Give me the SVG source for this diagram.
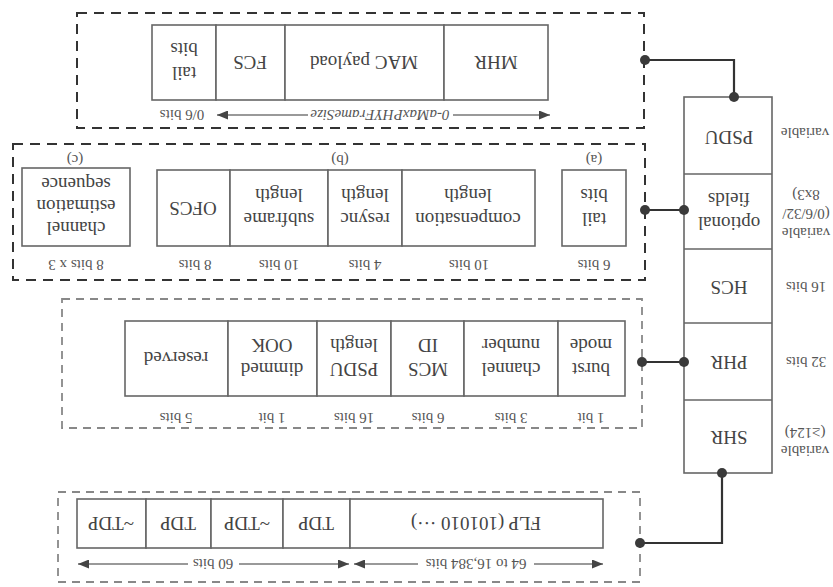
<svg xmlns="http://www.w3.org/2000/svg" width="833" height="587" viewBox="0 0 833 587">
<defs>
<style>
.box{fill:#fff;stroke:#666;stroke-width:1.6}
.t{font-family:"Liberation Serif","Times New Roman",serif;font-size:19px;fill:#444;text-anchor:middle;dominant-baseline:central}
.s{font-family:"Liberation Serif","Times New Roman",serif;font-size:15px;fill:#555;text-anchor:middle;dominant-baseline:central}
.i{font-style:italic;font-size:15px}
.dash{fill:none;stroke:#333;stroke-width:2;stroke-dasharray:10 7}
.dash2{fill:none;stroke:#888;stroke-width:1.8;stroke-dasharray:8 6}
.conn{fill:none;stroke:#333;stroke-width:2.2}
.dot{fill:#3a3a3a}
.dim{fill:none;stroke:#777;stroke-width:1.3;marker-end:url(#ah)}
</style>
<marker id="ah" markerUnits="userSpaceOnUse" markerWidth="11" markerHeight="9" refX="11" refY="4.5" orient="auto">
<path d="M0,0 L11,4.5 L0,9 z" fill="#444"/>
</marker>
</defs>
<rect width="833" height="587" fill="#fff"/>

<!-- MAC frame -->
<g id="mac-frame">
<rect class="dash" x="77" y="13" width="567" height="115"/>
<rect class="box" x="152" y="25" width="64" height="75"/>
<rect class="box" x="216" y="25" width="69" height="75"/>
<rect class="box" x="285" y="25" width="159" height="75"/>
<rect class="box" x="444" y="25" width="104" height="75"/>
<text class="t" transform="rotate(180 184 62)"><tspan x="184" y="50">tail</tspan><tspan x="184" y="74">bits</tspan></text>
<text class="t" transform="rotate(180 250 62)" x="250" y="62">FCS</text>
<text class="t" transform="rotate(180 364 62)" x="364" y="62">MAC payload</text>
<text class="t" transform="rotate(180 496 62)" x="496" y="62">MHR</text>
<line class="dim" x1="308" y1="115" x2="217" y2="115"/>
<line class="dim" x1="453" y1="115" x2="550" y2="115"/>
<text class="s i" transform="rotate(180 380 115)" x="380" y="115">0-aMaxPHYFrameSize</text>
<text class="s" transform="rotate(180 182 115)" x="182" y="115">0/6 bits</text>
</g>

<!-- PHY frame stack -->
<g id="phy-stack">
<rect class="box" x="684" y="97" width="88" height="376"/>
<line class="box" x1="684" y1="174" x2="772" y2="174"/>
<line class="box" x1="684" y1="249" x2="772" y2="249"/>
<line class="box" x1="684" y1="323" x2="772" y2="323"/>
<line class="box" x1="684" y1="400" x2="772" y2="400"/>
<text class="t" transform="rotate(180 729 137)" x="729" y="137">PSDU</text>
<text class="t" transform="rotate(180 729 212)"><tspan x="729" y="200">optional</tspan><tspan x="729" y="224">fields</tspan></text>
<text class="t" transform="rotate(180 729 287)" x="729" y="287">HCS</text>
<text class="t" transform="rotate(180 729 362)" x="729" y="362">PHR</text>
<text class="t" transform="rotate(180 729 437)" x="729" y="437">SHR</text>
<text class="s" transform="rotate(180 805 133)" x="805" y="133">variable</text>
<text class="s" transform="rotate(180 806 214)"><tspan x="806" y="195">variable</tspan><tspan x="806" y="214">(0/6/32/</tspan><tspan x="806" y="233">8x3)</tspan></text>
<text class="s" transform="rotate(180 806 287)" x="806" y="287">16 bits</text>
<text class="s" transform="rotate(180 806 362)" x="806" y="362">32 bits</text>
<text class="s" transform="rotate(180 805 442)"><tspan x="805" y="433">variable</tspan><tspan x="805" y="451">(≥124)</tspan></text>
</g>

<!-- Optional fields -->
<g id="optional-fields">
<rect class="dash" x="13" y="144" width="632" height="136"/>
<rect class="box" x="22" y="168" width="108" height="78"/>
<rect class="box" x="157" y="170" width="73" height="76"/>
<rect class="box" x="230" y="170" width="98" height="76"/>
<rect class="box" x="328" y="170" width="74" height="76"/>
<rect class="box" x="402" y="170" width="133" height="76"/>
<rect class="box" x="562" y="170" width="64" height="76"/>
<text class="t" transform="rotate(180 76 207)"><tspan x="76" y="185">channel</tspan><tspan x="76" y="207">estimation</tspan><tspan x="76" y="229">sequence</tspan></text>
<text class="t" transform="rotate(180 193 208)" x="193" y="208">OFCS</text>
<text class="t" transform="rotate(180 279 208)"><tspan x="279" y="196">subframe</tspan><tspan x="279" y="220">length</tspan></text>
<text class="t" transform="rotate(180 365 208)"><tspan x="365" y="196">resync</tspan><tspan x="365" y="220">length</tspan></text>
<text class="t" transform="rotate(180 468 208)"><tspan x="468" y="196">compensation</tspan><tspan x="468" y="220">length</tspan></text>
<text class="t" transform="rotate(180 594 208)"><tspan x="594" y="196">tail</tspan><tspan x="594" y="220">bits</tspan></text>
<text class="s" transform="rotate(180 594 160)" x="594" y="160">(a)</text>
<text class="s" transform="rotate(180 340 160)" x="340" y="160">(b)</text>
<text class="s" transform="rotate(180 75 160)" x="75" y="160">(c)</text>
<text class="s" transform="rotate(180 594 265)" x="594" y="265">6 bits</text>
<text class="s" transform="rotate(180 469 265)" x="469" y="265">10 bits</text>
<text class="s" transform="rotate(180 365 265)" x="365" y="265">4 bits</text>
<text class="s" transform="rotate(180 279 265)" x="279" y="265">10 bits</text>
<text class="s" transform="rotate(180 195 265)" x="195" y="265">8 bits</text>
<text class="s" transform="rotate(180 76 265)" x="76" y="265">8 bits x 3</text>
</g>

<!-- PHR -->
<g id="phr">
<rect class="dash2" x="62" y="299" width="580" height="129"/>
<rect class="box" x="125" y="321" width="103" height="75"/>
<rect class="box" x="228" y="321" width="89" height="75"/>
<rect class="box" x="317" y="321" width="74" height="75"/>
<rect class="box" x="391" y="321" width="73" height="75"/>
<rect class="box" x="464" y="321" width="94" height="75"/>
<rect class="box" x="558" y="321" width="67" height="75"/>
<text class="t" transform="rotate(180 176 358)" x="176" y="358">reserved</text>
<text class="t" transform="rotate(180 272 358)"><tspan x="272" y="346">dimmed</tspan><tspan x="272" y="370">OOK</tspan></text>
<text class="t" transform="rotate(180 354 358)"><tspan x="354" y="346">PSDU</tspan><tspan x="354" y="370">length</tspan></text>
<text class="t" transform="rotate(180 428 358)"><tspan x="428" y="346">MCS</tspan><tspan x="428" y="370">ID</tspan></text>
<text class="t" transform="rotate(180 511 358)"><tspan x="511" y="346">channel</tspan><tspan x="511" y="370">number</tspan></text>
<text class="t" transform="rotate(180 591 358)"><tspan x="591" y="346">burst</tspan><tspan x="591" y="370">mode</tspan></text>
<text class="s" transform="rotate(180 591 418)" x="591" y="418">1 bit</text>
<text class="s" transform="rotate(180 511 418)" x="511" y="418">3 bits</text>
<text class="s" transform="rotate(180 428 418)" x="428" y="418">6 bits</text>
<text class="s" transform="rotate(180 354 418)" x="354" y="418">16 bits</text>
<text class="s" transform="rotate(180 272 418)" x="272" y="418">1 bit</text>
<text class="s" transform="rotate(180 176 418)" x="176" y="418">5 bits</text>
</g>

<!-- SHR -->
<g id="shr">
<rect class="dash2" x="58" y="492" width="582" height="90"/>
<rect class="box" x="77" y="499" width="69" height="49"/>
<rect class="box" x="146" y="499" width="65" height="49"/>
<rect class="box" x="211" y="499" width="72" height="49"/>
<rect class="box" x="283" y="499" width="67" height="49"/>
<rect class="box" x="350" y="499" width="253" height="49"/>
<text class="t" transform="rotate(180 111 523)" x="111" y="523">~TDP</text>
<text class="t" transform="rotate(180 178 523)" x="178" y="523">TDP</text>
<text class="t" transform="rotate(180 247 523)" x="247" y="523">~TDP</text>
<text class="t" transform="rotate(180 316 523)" x="316" y="523">TDP</text>
<text class="t" transform="rotate(180 476 523)" x="476" y="523">FLP (101010 ···)</text>
<line class="dim" x1="188" y1="564" x2="78" y2="564"/>
<line class="dim" x1="239" y1="564" x2="349" y2="564"/>
<line class="dim" x1="418" y1="564" x2="354" y2="564"/>
<line class="dim" x1="534" y1="564" x2="603" y2="564"/>
<text class="s" transform="rotate(180 213 564)" x="213" y="564">60 bits</text>
<text class="s" transform="rotate(180 476 564)" x="476" y="564">64 to 16,384 bits</text>
</g>

<!-- connectors -->
<g id="connectors">
<polyline class="conn" points="645,60 734,60 734,97"/>
<line class="conn" x1="645" y1="210" x2="684" y2="210"/>
<line class="conn" x1="642" y1="362" x2="684" y2="362"/>
<polyline class="conn" points="640,543 722,543 722,473"/>
<circle class="dot" cx="645" cy="60" r="5"/>
<circle class="dot" cx="734" cy="97" r="5"/>
<circle class="dot" cx="645" cy="210" r="5"/>
<circle class="dot" cx="684" cy="210" r="5"/>
<circle class="dot" cx="642" cy="362" r="5"/>
<circle class="dot" cx="684" cy="362" r="5"/>
<circle class="dot" cx="640" cy="543" r="5"/>
<circle class="dot" cx="722" cy="473" r="5"/>
</g>
</svg>
